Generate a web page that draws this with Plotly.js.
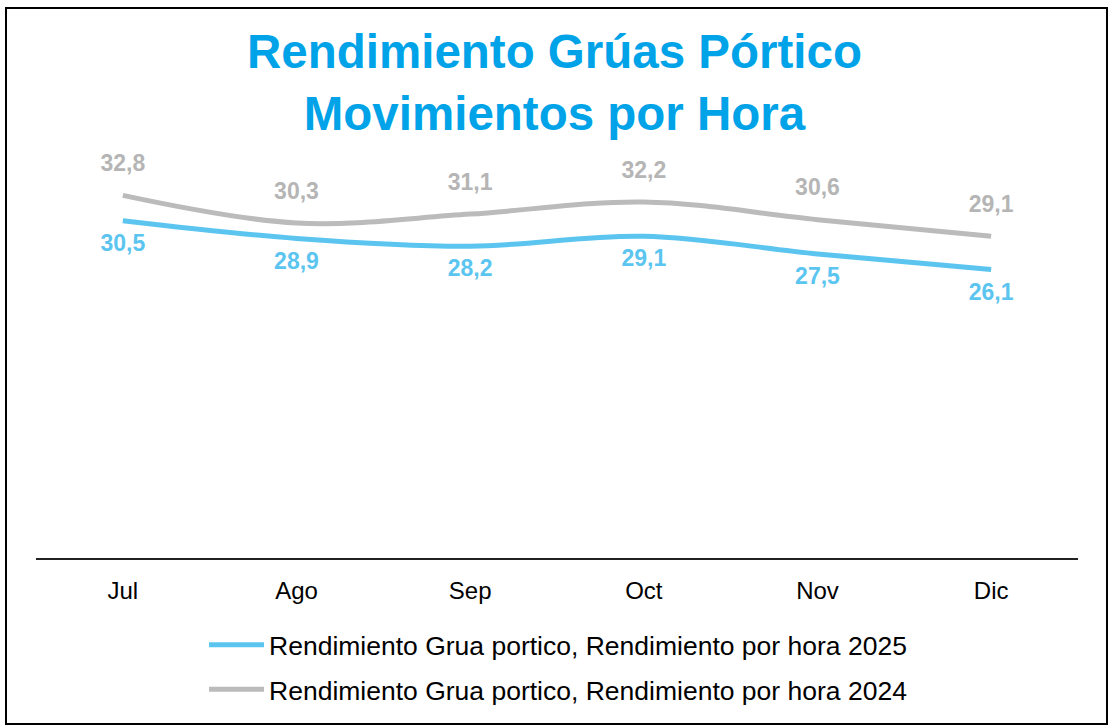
<!DOCTYPE html>
<html>
<head>
<meta charset="utf-8">
<script src="https://cdn.plot.ly/plotly-3.0.1.min.js"></script>
<style>
  html, body { margin: 0; padding: 0; background: #fff; }
  #wrap { position: relative; width: 1109px; height: 727px; }
  #chart { position: absolute; left: 0; top: 0; width: 1109px; height: 727px; }
  #frame { position: absolute; left: 5px; top: 7px; width: 1103px; height: 718px;
           border: 2px solid #000; box-sizing: border-box; pointer-events: none; }
</style>
</head>
<body>
<div id="wrap">
  <div id="chart"></div>
  <div id="frame"></div>
</div>
<script>
const months = ["Jul", "Ago", "Sep", "Oct", "Nov", "Dic"];
const values2025 = [30.5, 28.9, 28.2, 29.1, 27.5, 26.1];
const values2024 = [32.8, 30.3, 31.1, 32.2, 30.6, 29.1];
const name2025 = "Rendimiento Grua portico, Rendimiento por hora 2025";
const name2024 = "Rendimiento Grua portico, Rendimiento por hora 2024";
const titleText = "Rendimiento Grúas Pórtico<br>Movimientos por Hora";

const fmt = v => v.toFixed(1).replace(".", ",");

const blue = "#5BC5F0";
const grey = "#BBBBBB";
const FONT = "Liberation Sans, Arial, sans-serif";

const traces = [
  {
    x: months, y: values2025, name: name2025, type: "scatter", mode: "lines",
    line: { color: blue, width: 5, shape: "spline", smoothing: 1 },
    legendgroup: "a"
  },
  {
    x: months, y: values2024, name: name2024, type: "scatter", mode: "lines",
    line: { color: grey, width: 5, shape: "spline", smoothing: 1 },
    legendgroup: "b"
  },
  {
    x: months, y: values2025, type: "scatter", mode: "markers+text", showlegend: false,
    marker: { size: 19, opacity: 0 },
    text: values2025.map(fmt), textposition: "bottom center",
    textfont: { family: FONT, size: 23, color: blue, weight: "bold" },
    cliponaxis: false
  },
  {
    x: months, y: values2024, type: "scatter", mode: "markers+text", showlegend: false,
    marker: { size: 28, opacity: 0 },
    text: values2024.map(fmt), textposition: "top center",
    textfont: { family: FONT, size: 23, color: "#B5B5B5", weight: "bold" },
    cliponaxis: false
  }
];

const layout = {
  width: 1109, height: 727,
  margin: { l: 36, r: 31, t: 171, b: 169 },
  paper_bgcolor: "#fff", plot_bgcolor: "#fff",
  font: { family: FONT, color: "#000" },
  title: {
    text: titleText,
    font: { family: FONT, size: 47.5, color: "#00A3E8", weight: "bold" },
    x: 0.5, xanchor: "center", y: 0.906, yanchor: "middle", yref: "container"
  },
  xaxis: {
    type: "category", range: [-0.5, 5.5],
    showgrid: false, zeroline: false,
    showline: true, linecolor: "#222", linewidth: 1.5,
    ticks: "", ticklabelstandoff: 11,
    tickfont: { size: 24, color: "#000" },
    fixedrange: true
  },
  yaxis: {
    range: [0, 35], visible: false, showgrid: false, zeroline: false, fixedrange: true
  },
  showlegend: true,
  legend: {
    orientation: "v", x: 0.501, xanchor: "center", y: -0.163, yanchor: "top",
    font: { size: 26.5, color: "#000" },
    itemwidth: 55, tracegroupgap: 7, bgcolor: "rgba(0,0,0,0)"
  },
  hovermode: false
};

Plotly.newPlot("chart", traces, layout, { displayModeBar: false, staticPlot: true });
</script>
</body>
</html>
